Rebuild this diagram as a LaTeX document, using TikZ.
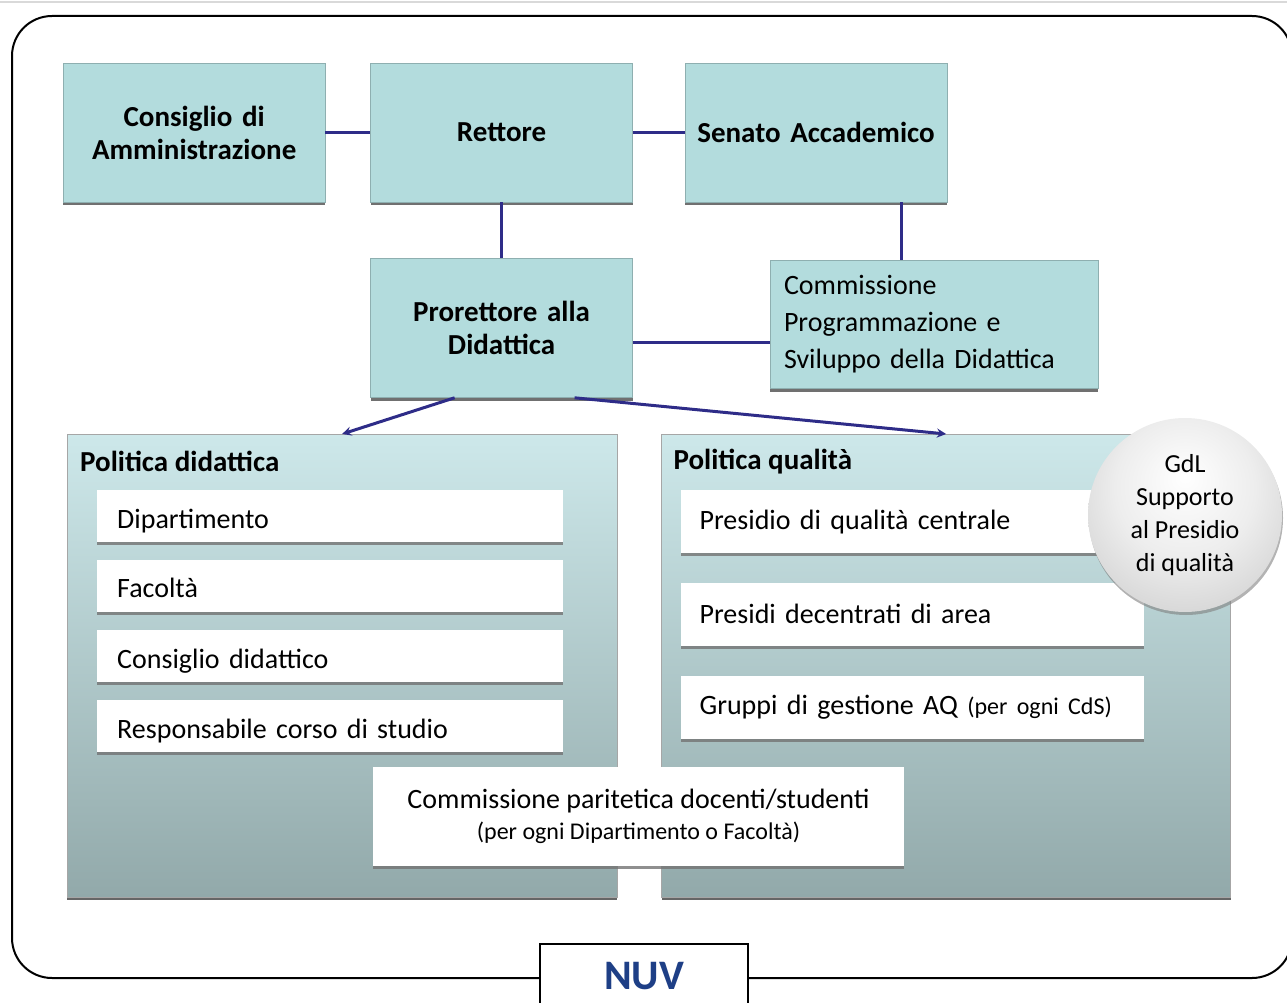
\documentclass[tikz,border=0pt]{standalone}
\usepackage{fontspec}
\setmainfont{Carlito}
\usepackage{xcolor}
\usepackage{tikz}
\usetikzlibrary{shapes.geometric, arrows, positioning, shadows}

\definecolor{boxteal}{HTML}{B3DCDD}
\definecolor{boxedge}{HTML}{8EAFB0}
\definecolor{paneltop}{HTML}{CDE8EA}
\definecolor{panelbot}{HTML}{92A9AA}
\definecolor{linkblue}{HTML}{2E2C88}
\definecolor{nuvblue}{HTML}{1E3F86}
\pgfdeclareradialshading{gdlshade}{\pgfpoint{0bp}{10bp}}{color(0bp)=(white); color(18bp)=(black!7); color(40bp)=(black!22); color(60bp)=(black!36)}

\begin{document}
\begin{tikzpicture}[x=1pt, y=-1pt,
    box/.style={rectangle, draw=boxedge, fill=boxteal, minimum width=262pt, minimum height=139pt, text width=240pt, align=center, inner sep=0pt, font=\fontsize{29}{33}\selectfont\bfseries, drop shadow={shadow xshift=0pt, shadow yshift=-3pt, fill=black!70, opacity=0.8}},
    panel/.style={rectangle, draw=black!35, top color=paneltop, bottom color=panelbot, minimum height=463pt, inner sep=0pt, drop shadow={shadow xshift=0pt, shadow yshift=-3pt, fill=black!75, opacity=0.8}},
    paneltitle/.style={inner sep=0pt, font=\fontsize{29}{33}\selectfont\bfseries},
    item/.style={rectangle, fill=white, inner ysep=0pt, align=left, font=\fontsize{28}{33}\selectfont, drop shadow={shadow xshift=0pt, shadow yshift=-3pt, fill=black!55, opacity=0.8}},
    leftitem/.style={item, minimum width=466pt, minimum height=52pt, text width=426pt, inner xsep=20pt, text height=24pt, text depth=0pt},
    rightitem/.style={item, minimum width=463pt, minimum height=63pt, text width=425pt, inner xsep=19pt},
    conn/.style={draw=linkblue, line width=3pt},
    arrow/.style={conn, ->, >=stealth}
  ]
    \clip (0,0) rectangle (1287,1003);
    \draw [black!15, line width=2pt] (0,2) -- (1287,2);
    \draw [line width=2pt, rounded corners=40pt] (12,16) rectangle (1292,978);

    % top row
    \node (cda) [box, anchor=north west] at (63,63) {Consiglio di\\Amministrazione};
    \node (rettore) [box, right=45pt of cda] {Rettore};
    \node (senato) [box, right=52pt of rettore] {Senato Accademico};
    \node (prorettore) [box, below=56pt of rettore] {Prorettore alla\\Didattica};
    \node (cpsd) [box, right=137pt of prorettore, yshift=3.5pt, minimum width=328pt, minimum height=128pt, text width=300pt, align=left, font=\fontsize{28}{37}\selectfont] {Commissione\\Programmazione e\\Sviluppo della Didattica};

    \draw [conn] (cda) -- (rettore);
    \draw [conn] (rettore) -- (senato);
    \draw [conn] (rettore) -- (prorettore);
    \draw [conn] ([xshift=85pt]senato.south) -- ([xshift=85pt]senato.south |- cpsd.north);
    \draw [conn] ([yshift=-14pt]prorettore.east) -- ([yshift=-14pt]prorettore.east -| cpsd.west);

    % panels
    \node (poldid) [panel, anchor=north west, minimum width=550pt] at (67,434) {};
    \node (polqual) [panel, right=44pt of poldid, minimum width=569pt] {};
    \node (poldidtitle) [paneltitle, anchor=west] at ([xshift=13pt, yshift=-27pt]poldid.north west) {Politica didattica};
    \node (polqualtitle) [paneltitle, anchor=west] at ([xshift=12pt, yshift=-28pt]polqual.north west) {Politica qualità};

    \draw [arrow] ([xshift=-47pt]prorettore.south) -- (poldid.north);
    \draw [arrow] ([xshift=73pt]prorettore.south) -- (polqual.north);

    % politica didattica
    \node (dip) [leftitem, below right=56pt and 30pt of poldid.north west] {Dipartimento};
    \node (fac) [leftitem, below=17pt of dip] {Facoltà};
    \node (cdid) [leftitem, below=18pt of fac] {Consiglio didattico};
    \node (rcs) [leftitem, below=18pt of cdid] {Responsabile corso di studio};

    % politica qualita
    \node (pqc) [rightitem, below right=56pt and 19pt of polqual.north west] {Presidio di qualità centrale};
    \node (pda) [rightitem, below=29pt of pqc] {Presidi decentrati di area};
    \node (gaq) [rightitem, below=30pt of pda] {Gruppi di gestione AQ {\fontsize{24}{28}\selectfont(per ogni CdS)}};

    \node (cpds) [item, minimum width=531pt, minimum height=99pt, align=center] at (638.5,816.5) {Commissione paritetica docenti/studenti\\[-2pt]{\fontsize{24}{30}\selectfont(per ogni Dipartimento o Facoltà)}};

    \node (gdl) [circle, minimum size=194pt, inner sep=0pt, shading=gdlshade, align=center, font=\fontsize{26}{33}\selectfont, drop shadow={shadow xshift=1pt, shadow yshift=-3pt, fill=black!50, opacity=0.6}] at (1185,515) {GdL\\Supporto\\al Presidio\\di qualità};

    \node (nuv) [rectangle, draw, line width=2pt, fill=white, anchor=north, minimum width=208pt, minimum height=64pt, text=nuvblue, font=\fontsize{42}{46}\selectfont\bfseries] at (644,943) {NUV};
\end{tikzpicture}
\end{document}
